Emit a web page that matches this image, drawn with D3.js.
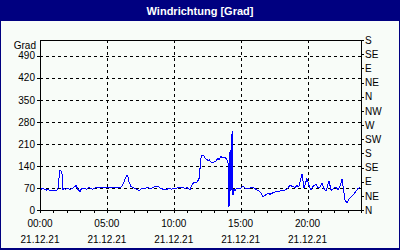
<!DOCTYPE html>
<html>
<head>
<meta charset="utf-8">
<script src="https://cdn.jsdelivr.net/npm/d3@7"></script>
<style>
  html, body { margin: 0; padding: 0; background: #fff; }
  svg { display: block; font-family: "Liberation Sans", Arial, sans-serif; }
</style>
</head>
<body>
<svg id="chart" width="400" height="250"></svg>
<script>
const TITLE = 'Windrichtung [Grad]';
const UNIT = 'Grad';
const DATE_LABEL = '21.12.21';

// hours since 00:00 and wind direction in degrees
const hours = [
    0.00, 0.07, 0.15, 0.22, 0.30, 0.45, 0.60, 0.75, 0.90, 1.12,
    1.27, 1.35, 1.42, 1.50, 1.57, 1.64, 1.72, 1.79, 1.94, 2.09,
    2.24, 2.39, 2.54, 2.69, 2.84, 2.99, 3.07, 3.21, 3.36, 3.51,
    3.66, 3.81, 3.96, 4.11, 4.26, 4.49, 4.71, 4.93, 5.08, 5.23,
    5.38, 5.53, 5.68, 5.83, 5.98, 6.13, 6.28, 6.43, 6.50, 6.58,
    6.65, 6.80, 6.95, 7.10, 7.25, 7.40, 7.55, 7.70, 7.85, 8.00,
    8.15, 8.30, 8.45, 8.60, 8.82, 8.97, 9.12, 9.35, 9.57, 9.72,
    9.87, 10.02, 10.17, 10.32, 10.47, 10.69, 10.84, 10.99, 11.14, 11.21,
    11.36, 11.51, 11.74, 11.89, 12.04, 12.11, 12.26, 12.34, 12.49, 12.56,
    12.64, 12.79, 12.86, 13.01, 13.16, 13.31, 13.38, 13.53, 13.68, 13.83,
    13.98, 14.06, 14.13, 14.21, 14.28, 14.36, 14.43, 14.50, 14.58, 14.73,
    14.88, 15.03, 15.18, 15.33, 15.48, 15.70, 15.93, 16.15, 16.37, 16.52,
    16.67, 16.82, 17.05, 17.20, 17.42, 17.64, 17.94, 18.17, 18.39, 18.54,
    18.69, 18.84, 19.07, 19.21, 19.36, 19.44, 19.59, 19.74, 19.81, 19.96,
    20.11, 20.26, 20.41, 20.64, 20.79, 20.93, 21.08, 21.23, 21.38, 21.46,
    21.61, 21.76, 21.98, 22.13, 22.28, 22.43, 22.58, 22.80, 22.95, 23.10,
    23.33, 23.55, 23.78, 23.95
];
const values = [
    72, 68, 66, 70, 66, 63, 65, 62, 63, 62,
    63, 70, 100, 127, 124, 118, 65, 68, 66, 70,
    64, 68, 72, 78, 65, 58, 66, 70, 68, 66,
    72, 68, 66, 70, 70, 70, 70, 71, 72, 72,
    70, 72, 71, 70, 72, 75, 90, 105, 111, 105,
    90, 75, 72, 68, 66, 62, 66, 70, 68, 72,
    70, 68, 72, 74, 75, 70, 67, 65, 67, 68,
    66, 70, 68, 72, 70, 72, 68, 72, 66, 64,
    80, 88, 88, 100, 165, 175, 172, 165, 160, 155,
    160, 152, 150, 152, 155, 165, 160, 170, 165, 168,
    160, 150, 10, 190, 60, 250, 48, 66, 62, 70,
    68, 70, 76, 70, 68, 70, 72, 66, 60, 55,
    42, 46, 54, 50, 55, 58, 60, 62, 64, 70,
    79, 75, 72, 77, 74, 90, 114, 70, 80, 100,
    78, 64, 75, 82, 70, 72, 85, 68, 60, 70,
    93, 62, 70, 72, 65, 75, 98, 32, 22, 35,
    45, 55, 68, 72
];

const leftTicks = [0, 70, 140, 210, 280, 350, 420, 490];
const rightTicks = [0, 45, 90, 135, 180, 225, 270, 315, 360, 405, 450, 495, 540];
const rightLabels = ['N', 'NE', 'E', 'SE', 'S', 'SW', 'W', 'NW', 'N', 'NE', 'E', 'SE', 'S'];
const timeTicks = [0, 5, 10, 15, 20];
const timeLabels = ['00:00', '05:00', '10:00', '15:00', '20:00'];

const NAVY = '#000080';
const BG = '#f8fcf8';
const LINE = '#0000ff';
const X0 = 40, X1 = 361, Y0 = 40, Y1 = 210;

const svg = d3.select('#chart');

// frame + title bar
svg.append('rect').attr('width', 400).attr('height', 250).attr('fill', NAVY);
svg.append('rect').attr('x', 1).attr('y', 21).attr('width', 398).attr('height', 227).attr('fill', BG);
svg.append('text')
    .attr('x', 200).attr('y', 15)
    .attr('text-anchor', 'middle')
    .style('font-size', '11px').style('font-weight', 'bold').style('fill', '#fff')
    .text(TITLE);

const x = d3.scaleLinear().domain([0, 24]).range([X0, X1]);
const y = d3.scaleLinear().domain([0, 540]).range([Y1, Y0]);

// grid
const grid = svg.append('g')
    .attr('stroke', '#000').attr('stroke-width', 1).attr('stroke-dasharray', '3,3')
    .attr('shape-rendering', 'crispEdges');
grid.selectAll('.h').data(leftTicks.filter(d => d > 0)).join('line')
    .attr('x1', X0).attr('x2', X1)
    .attr('y1', d => Math.round(y(d)) + 0.5).attr('y2', d => Math.round(y(d)) + 0.5);
grid.selectAll('.v').data(timeTicks.filter(d => d > 0)).join('line')
    .attr('y1', Y0).attr('y2', Y1)
    .attr('x1', d => Math.round(x(d)) + 0.5).attr('x2', d => Math.round(x(d)) + 0.5);

// top border
svg.append('line')
    .attr('x1', X0).attr('x2', X1).attr('y1', Y0 + 0.5).attr('y2', Y0 + 0.5)
    .attr('stroke', '#000').attr('shape-rendering', 'crispEdges');

// series
svg.append('path')
    .datum(hours.map((h, i) => [h, values[i]]))
    .attr('fill', 'none').attr('stroke', LINE).attr('stroke-width', 1)
    .attr('shape-rendering', 'crispEdges')
    .attr('d', d3.line().x(d => x(d[0])).y(d => y(d[1])));

// axes
const styleAxis = g => {
    g.selectAll('path, line').attr('stroke', '#000').attr('shape-rendering', 'crispEdges');
    g.selectAll('text').style('font-size', '10px').style('fill', '#000')
        .style('font-family', '"Liberation Sans", Arial, sans-serif');
};

svg.append('g')
    .attr('transform', `translate(${X0},0)`)
    .call(d3.axisLeft(y).tickValues(leftTicks).tickSizeInner(3).tickSizeOuter(0).tickPadding(2))
    .call(styleAxis);

svg.append('g')
    .attr('transform', `translate(${X1},0)`)
    .call(d3.axisRight(y).tickValues(rightTicks).tickSizeInner(3).tickSizeOuter(0).tickPadding(1)
        .tickFormat((d, i) => rightLabels[i]))
    .call(styleAxis);

svg.append('g')
    .attr('transform', `translate(0,${Y1})`)
    .call(d3.axisBottom(x).tickValues(d3.range(0, 25)).tickSizeInner(3).tickSizeOuter(0).tickFormat(''))
    .call(styleAxis);

const xl = svg.append('g').style('font-size', '10px').style('fill', '#000').attr('text-anchor', 'middle');
timeTicks.forEach((t, i) => {
    xl.append('text').attr('x', x(t)).attr('y', 227).text(timeLabels[i]);
    xl.append('text').attr('x', x(t)).attr('y', 243).text(DATE_LABEL);
});

// unit label
svg.append('text')
    .attr('x', 36).attr('y', 49).attr('text-anchor', 'end')
    .style('font-size', '10px').style('fill', '#000')
    .text(UNIT);
</script>
</body>
</html>
